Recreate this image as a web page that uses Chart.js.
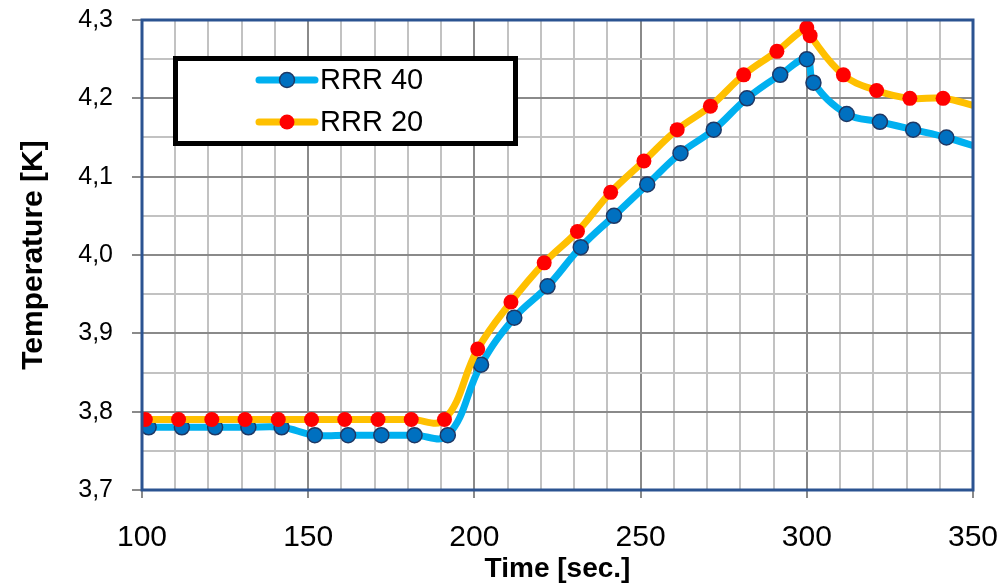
<!DOCTYPE html>
<html>
<head>
<meta charset="utf-8">
<title>Temperature vs time</title>
<script src="https://cdn.jsdelivr.net/npm/chart.js@4.4.1/dist/chart.umd.min.js"></script>
<style>
  body { margin: 0; background: #fff; }
  #wrap { position: relative; width: 1002px; height: 587px; }
</style>
</head>
<body>
<div id="wrap"><canvas id="tempChart" width="1002" height="587"></canvas></div>
<script>
// values (time in sec, temperature in K)
const seriesNames = ['RRR 40', 'RRR 20'];

const rrr40Time = [102, 112, 122, 132, 142, 152, 162, 172, 182, 192,
  202, 212, 222, 232, 242, 252, 262, 272, 282, 292,
  300, 302, 312, 322, 332, 342, 352];
const rrr40Temp = [3.78, 3.78, 3.78, 3.78, 3.78, 3.77, 3.77, 3.77, 3.77, 3.77,
  3.86, 3.92, 3.96, 4.01, 4.05, 4.09, 4.13, 4.16, 4.20, 4.23,
  4.25, 4.22, 4.18, 4.17, 4.16, 4.15, 4.137];

const rrr20Time = [101, 111, 121, 131, 141, 151, 161, 171, 181, 191,
  201, 211, 221, 231, 241, 251, 261, 271, 281, 291,
  300, 301, 311, 321, 331, 341, 351];
const rrr20Temp = [3.79, 3.79, 3.79, 3.79, 3.79, 3.79, 3.79, 3.79, 3.79, 3.79,
  3.88, 3.94, 3.99, 4.03, 4.08, 4.12, 4.16, 4.19, 4.23, 4.26,
  4.29, 4.28, 4.23, 4.21, 4.20, 4.20, 4.19];

// axis ticks (only these get labels, the rest are minor grid lines)
const xTickLabels = [100, 150, 200, 250, 300, 350];
const yTickLabels = ['3,7', '3,8', '3,9', '4,0', '4,1', '4,2', '4,3'];

const X_MIN = 100, X_MAX = 350, Y_MIN = 3.7, Y_MAX = 4.3;
const FONT = "'Liberation Sans', Arial, sans-serif";
Chart.defaults.font.family = FONT;
Chart.defaults.color = '#000';

const lineColors = ['#00B0F0', '#FFC000'];
const dotColors = ['#0070C0', '#FF0000'];
const dotBorders = ['#1F3864', '#FF0000'];

function toPoints(times, temps) {
  return times.map((t, i) => ({ x: t, y: temps[i] }));
}

const isMajorX = v => xTickLabels.includes(Math.round(v));
const yLabelFor = v => {
  const k = Math.round((v - Y_MIN) * 100);
  return (k % 10 === 0) ? yTickLabels[k / 10] : '';
};

// 🔲 border round the plot area
const plotFrame = {
  id: 'plotFrame',
  afterDatasetsDraw(chart) {
    const { ctx, chartArea: a } = chart;
    ctx.save();
    ctx.strokeStyle = '#2B5391';
    ctx.lineWidth = 3;
    ctx.strokeRect(a.left, a.top, a.right - a.left, a.bottom - a.top);
    ctx.restore();
  }
};

// 📦 legend in a thick black box inside the plot
const boxLegend = {
  id: 'boxLegend',
  afterDraw(chart) {
    const { ctx, chartArea: a } = chart;
    const bx = a.left + 33.5, by = a.top + 38.5, bw = 340, bh = 85;
    ctx.save();
    ctx.fillStyle = '#fff';
    ctx.fillRect(bx, by, bw, bh);
    ctx.lineWidth = 5;
    ctx.strokeStyle = '#000';
    ctx.strokeRect(bx, by, bw, bh);

    seriesNames.forEach((name, i) => {
      const y = a.top + 60 + i * 42;
      ctx.lineCap = 'round';
      ctx.lineWidth = 7;
      ctx.strokeStyle = lineColors[i];
      ctx.beginPath();
      ctx.moveTo(a.left + 117, y);
      ctx.lineTo(a.left + 173, y);
      ctx.stroke();

      ctx.beginPath();
      ctx.arc(a.left + 145, y, 7.5, 0, Math.PI * 2);
      ctx.fillStyle = dotColors[i];
      ctx.fill();
      if (i === 0) {
        ctx.lineWidth = 1.5;
        ctx.strokeStyle = dotBorders[i];
        ctx.stroke();
      }

      ctx.fillStyle = '#000';
      ctx.font = '29px ' + FONT;
      ctx.textBaseline = 'middle';
      ctx.textAlign = 'left';
      ctx.fillText(name, a.left + 178, y + 1);
    });
    ctx.restore();
  }
};

function makeDataset(i, times, temps, order) {
  return {
    label: seriesNames[i],
    data: toPoints(times, temps),
    borderColor: lineColors[i],
    backgroundColor: dotColors[i],
    borderWidth: 7,
    borderJoinStyle: 'round',
    borderCapStyle: 'round',
    pointBackgroundColor: dotColors[i],
    pointBorderColor: dotBorders[i],
    pointBorderWidth: i === 0 ? 1.5 : 0,
    pointRadius: ctx => (ctx.raw && ctx.raw.x > X_MAX) ? 0 : 7.5,
    tension: 0.4,
    clip: 0,
    order: order
  };
}

const ctx = document.getElementById('tempChart').getContext('2d');
const tempChart = new Chart(ctx, {
  type: 'line',
  data: {
    datasets: [
      makeDataset(0, rrr40Time, rrr40Temp, 2),
      makeDataset(1, rrr20Time, rrr20Temp, 1)
    ]
  },
  options: {
    responsive: false,
    animation: false,
    devicePixelRatio: 1,
    layout: { padding: { top: 20, right: 29, left: 0, bottom: 0 } },
    plugins: {
      legend: { display: false },
      tooltip: { enabled: false }
    },
    scales: {
      x: {
        type: 'linear',
        min: X_MIN,
        max: X_MAX,
        afterFit: s => {
          s.height = 97;
          s.paddingLeft = 0;
          s.paddingRight = 0;
        },
        border: { display: false },
        grid: {
          color: c => isMajorX(c.tick.value) ? '#8A8A8A' : '#C2C2C2',
          lineWidth: 2,
          tickLength: 8,
          tickColor: c => isMajorX(c.tick.value) ? '#8A8A8A' : 'rgba(0,0,0,0)'
        },
        ticks: {
          stepSize: 10,
          autoSkip: false,
          maxRotation: 0,
          padding: 22,
          font: { size: 30 },
          callback: v => isMajorX(v) ? String(v) : ''
        },
        title: {
          display: true,
          text: 'Time [sec.]',
          font: { size: 28, weight: 'bold' },
          padding: { top: 0, bottom: 1 }
        }
      },
      y: {
        min: Y_MIN,
        max: Y_MAX,
        afterFit: s => {
          s.width = 142;
          s.paddingTop = 0;
          s.paddingBottom = 0;
        },
        border: { display: false },
        grid: {
          color: c => yLabelFor(c.tick.value) ? '#8A8A8A' : '#C2C2C2',
          lineWidth: 2,
          tickLength: 10,
          tickColor: c => yLabelFor(c.tick.value) ? '#8A8A8A' : 'rgba(0,0,0,0)'
        },
        ticks: {
          stepSize: 0.05,
          autoSkip: false,
          padding: 19,
          font: { size: 25 },
          callback: v => yLabelFor(v)
        },
        title: {
          display: true,
          text: 'Temperature [K]',
          font: { size: 30, weight: 'bold' },
          padding: { top: 16, bottom: 0 }
        }
      }
    }
  },
  plugins: [plotFrame, boxLegend]
});
</script>
</body>
</html>
